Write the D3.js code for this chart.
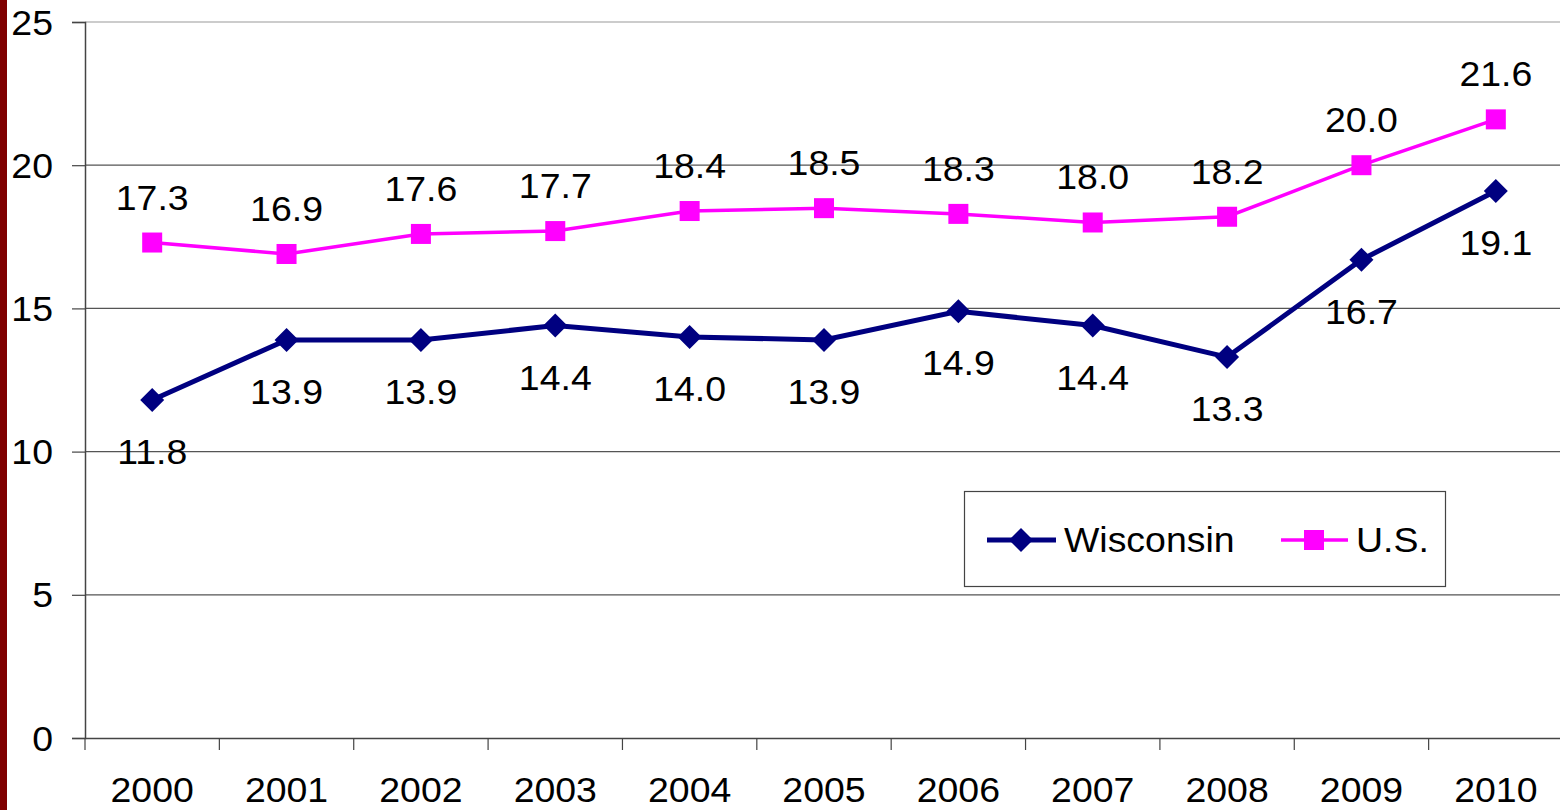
<!DOCTYPE html>
<html><head><meta charset="utf-8">
<script src="https://cdn.jsdelivr.net/npm/d3@7"></script>
<style>
html,body{margin:0;padding:0;background:#fff;}
svg{display:block;}
text{font-family:"Liberation Sans",Arial,sans-serif;fill:#000;}
</style></head>
<body>
<svg id="chart" width="1560" height="810"></svg>
<script>
const years = ["2000","2001","2002","2003","2004","2005","2006","2007","2008","2009","2010"];
const wisconsin = [11.8,13.9,13.9,14.4,14.0,13.9,14.9,14.4,13.3,16.7,19.1];
const us = [17.3,16.9,17.6,17.7,18.4,18.5,18.3,18.0,18.2,20.0,21.6];
const yTicks = [0,5,10,15,20,25];
const seriesNames = ["Wisconsin","U.S."];

(function(){
const svg = d3.select("#chart");
const mLeft = 85, mRight = 1563, mTop = 22, mBottom = 738;
const x = d3.scaleBand().domain(years).range([mLeft, mRight]);
const y = d3.scaleLinear().domain([0,25]).range([mBottom, mTop]);
const sx = 1.07, fs = 35;

// left dark red bar
svg.append("rect").attr("x",0).attr("y",0).attr("width",7).attr("height",810).attr("fill","#7f0000");

// gridlines
svg.append("g").selectAll("line").data(yTicks.filter(d=>d>0)).join("line")
  .attr("x1",mLeft).attr("x2",1560).attr("y1",d=>y(d)).attr("y2",d=>y(d))
  .attr("stroke",d=>d===25?"#999":"#555").attr("stroke-width",1.2);

// y axis
const yAxis = d3.axisLeft(y).tickValues(yTicks).tickSize(13).tickFormat(d3.format("d"));
const gy = svg.append("g").attr("transform",`translate(${mLeft},0)`).call(yAxis);
gy.select(".domain").attr("stroke","#444").attr("stroke-width",1.5);
gy.selectAll(".tick line").attr("stroke","#444").attr("stroke-width",1.2);
gy.selectAll(".tick text").attr("x",null).attr("dx",null).attr("dy",null)
  .attr("font-size",fs).attr("font-family","Liberation Sans, Arial, sans-serif")
  .attr("text-anchor","end").attr("fill","#000")
  .attr("transform","translate(-32,12) scale(1.07,1)");

// x axis
const xAxis = d3.axisBottom(x).tickSize(0).tickFormat(d=>d);
const gx = svg.append("g").attr("transform",`translate(0,${mBottom})`).call(xAxis);
gx.select(".domain").attr("stroke","#444").attr("stroke-width",1.5);
gx.selectAll(".tick text").attr("y",null).attr("dy",null)
  .attr("font-size",fs).attr("font-family","Liberation Sans, Arial, sans-serif").attr("fill","#000")
  .attr("transform","translate(0,64) scale(1.07,1)");
// tick marks at band boundaries
const bounds = years.map(d=>x(d)).concat([x(years[years.length-1])+x.bandwidth()]);
gx.append("g").selectAll("line").data(bounds).join("line")
  .attr("x1",d=>d).attr("x2",d=>d).attr("y1",0).attr("y2",12)
  .attr("stroke","#444").attr("stroke-width",1.2);

const cx = d => x(d)+x.bandwidth()/2;
const line = d3.line().x(d=>cx(d.year)).y(d=>y(d.v));
const usData = years.map((yr,i)=>({year:yr,v:us[i]}));
const wiData = years.map((yr,i)=>({year:yr,v:wisconsin[i]}));

// US series
svg.append("path").datum(usData).attr("d",line).attr("fill","none").attr("stroke","#ff00ff").attr("stroke-width",3.5);
svg.append("g").selectAll("rect").data(usData).join("rect")
  .attr("x",d=>cx(d.year)-10).attr("y",d=>y(d.v)-10).attr("width",20).attr("height",20).attr("fill","#ff00ff");
svg.append("g").selectAll("text").data(usData).join("text")
  .attr("text-anchor","middle").attr("font-size",fs)
  .attr("transform",d=>`translate(${cx(d.year)},${y(d.v)-33}) scale(${sx},1)`)
  .text(d=>d.v.toFixed(1));

// Wisconsin series
svg.append("path").datum(wiData).attr("d",line).attr("fill","none").attr("stroke","#000080").attr("stroke-width",5);
const diamond = (px,py,r)=>`M${px},${py-r}L${px+r},${py}L${px},${py+r}L${px-r},${py}Z`;
svg.append("g").selectAll("path").data(wiData).join("path")
  .attr("d",d=>diamond(cx(d.year),y(d.v),12)).attr("fill","#000080");
svg.append("g").selectAll("text").data(wiData).join("text")
  .attr("text-anchor","middle").attr("font-size",fs)
  .attr("transform",d=>`translate(${cx(d.year)},${y(d.v)+64}) scale(${sx},1)`)
  .text(d=>d.v.toFixed(1));

// legend
const lg = svg.append("g");
lg.append("rect").attr("x",964.5).attr("y",491.5).attr("width",481).attr("height",95)
  .attr("fill","#fff").attr("stroke","#444").attr("stroke-width",1.2);
lg.append("line").attr("x1",987).attr("x2",1056).attr("y1",540).attr("y2",540).attr("stroke","#000080").attr("stroke-width",5);
lg.append("path").attr("d",diamond(1021,540,12)).attr("fill","#000080");
lg.append("text").attr("font-size",fs).attr("transform","translate(1064,552) scale(1.07,1)").text(seriesNames[0]);
lg.append("line").attr("x1",1281).attr("x2",1348).attr("y1",540).attr("y2",540).attr("stroke","#ff00ff").attr("stroke-width",3.5);
lg.append("rect").attr("x",1304).attr("y",530).attr("width",20).attr("height",20).attr("fill","#ff00ff");
lg.append("text").attr("font-size",fs).attr("transform","translate(1356,552) scale(1.07,1)").text(seriesNames[1]);
})();
</script>
</body></html>
